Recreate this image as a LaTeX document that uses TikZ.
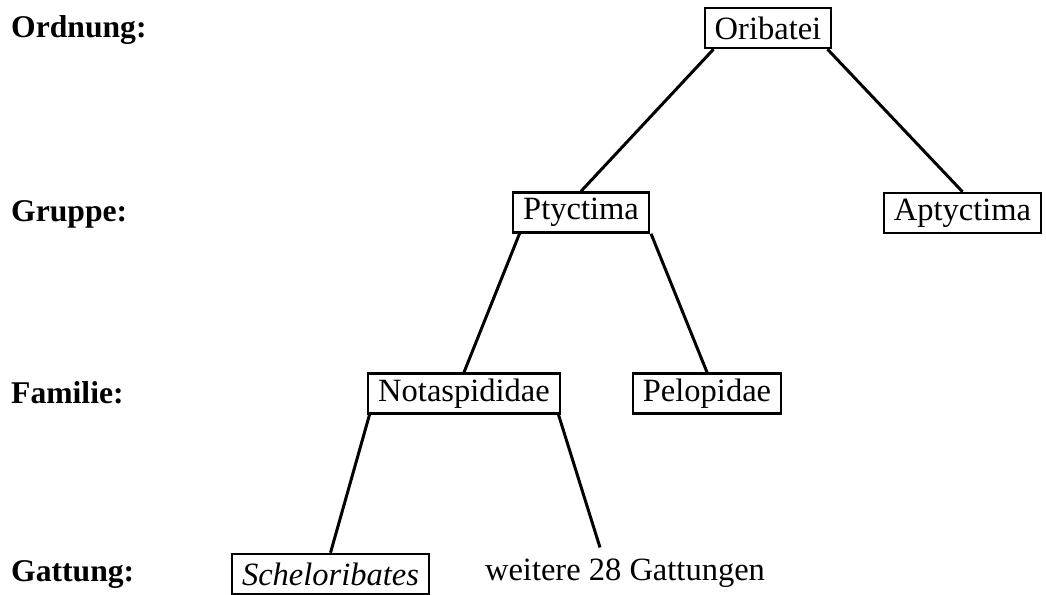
\documentclass[tikz,border=0pt]{standalone}
\usepackage{fontspec}
\setmainfont{Liberation Serif}
\begin{document}
\begin{tikzpicture}[
	taxon/.style={draw, line width=1.4pt, minimum height=0.8cm, inner xsep=0.2cm, inner ysep=0pt, font=\fontsize{18.5}{22}\selectfont},
	rank/.style={anchor=west, font=\fontsize{18}{22}\selectfont\bfseries},
	branch/.style={line width=1.7pt}
	]
	\useasboundingbox (0,0) rectangle (20.92,-11.9);
	
	% Ranks
	\node[rank] (r1) at (0.1,-0.6) {Ordnung:};
	\node[rank] (r2) at (0.1,-4.28) {Gruppe:};
	\node[rank] (r3) at (0.1,-7.86) {Familie:};
	\node[rank] (r4) at (0.1,-11.5) {Gattung:};
	
	% Order
	\node[taxon] (ori) at (15.36,-0.56) {Oribatei};
	
	% Groups
	\node[taxon] (ptyc) at (11.62,-4.25) {Ptyctima};
	\node[taxon] (apt) at (19.25,-4.26) {Aptyctima};
	
	% Families
	\node[taxon] (nota) at (9.28,-7.87) {Notaspididae};
	\node[taxon] (pelo) at (14.14,-7.87) {Pelopidae};
	
	% Genera
	\node[taxon] (schel) at (6.61,-11.48) {\itshape Scheloribates};
	\node[font=\fontsize{18.5}{22}\selectfont] (wei) at (12.5,-11.46) {weitere 28 Gattungen};
	
	% Branches
	\draw[branch] ([xshift=0.2cm]ori.south west) -- (ptyc.north);
	\draw[branch] ([xshift=-0.1cm]ori.south east) -- (apt.north);
	\draw[branch] ([xshift=0.15cm]ptyc.south west) -- (nota.north);
	\draw[branch] ([xshift=0.02cm]ptyc.south east) -- (pelo.north);
	\draw[branch] ([xshift=0.05cm]nota.south west) -- (schel.north);
	\draw[branch] ([xshift=-0.05cm]nota.south east) -- ([xshift=-0.5cm,yshift=0.1cm]wei.north);
	
\end{tikzpicture}
\end{document}
